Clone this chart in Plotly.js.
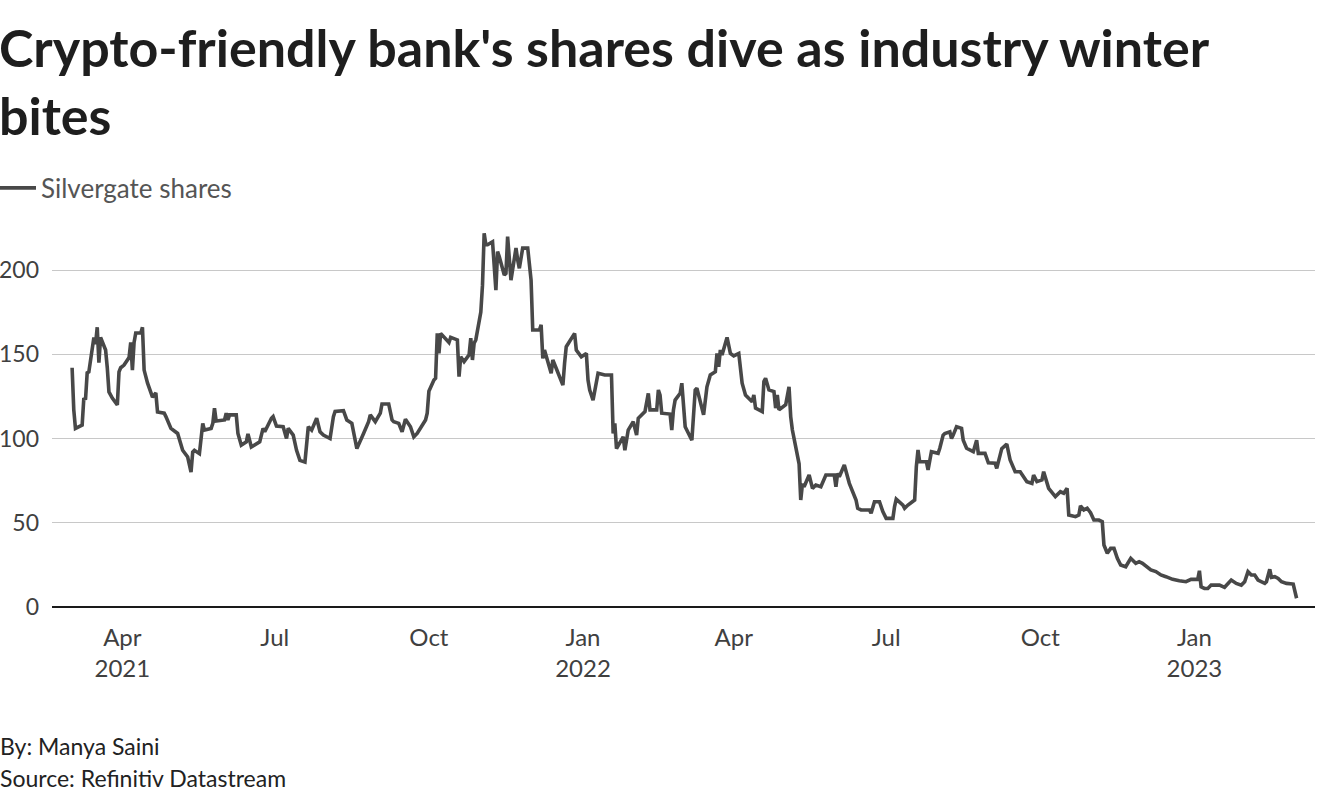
<!DOCTYPE html>
<html>
<head>
<meta charset="utf-8">
<script src="https://cdn.plot.ly/plotly-3.0.1.min.js"></script>
<style>
  html, body { margin: 0; padding: 0; background: #ffffff; }
  #chart { width: 1320px; height: 800px; }
</style>
</head>
<body>
<div id="chart"></div>
<script>
// Silvergate share price (USD)
const dates = [
  "2021-03-02","2021-03-03","2021-03-04","2021-03-08","2021-03-09","2021-03-10","2021-03-11","2021-03-12",
  "2021-03-15","2021-03-16","2021-03-17","2021-03-18","2021-03-19","2021-03-22","2021-03-23","2021-03-24",
  "2021-03-26","2021-03-29","2021-03-30","2021-03-31","2021-04-02","2021-04-05","2021-04-06","2021-04-07",
  "2021-04-08","2021-04-09","2021-04-12","2021-04-13","2021-04-14","2021-04-16","2021-04-19","2021-04-21",
  "2021-04-22","2021-04-26","2021-04-27","2021-04-30","2021-05-04","2021-05-05","2021-05-07","2021-05-10",
  "2021-05-12","2021-05-13","2021-05-14","2021-05-17","2021-05-19","2021-05-20","2021-05-24","2021-05-25",
  "2021-05-26","2021-05-27","2021-06-01","2021-06-02","2021-06-03","2021-06-04","2021-06-08","2021-06-09",
  "2021-06-11","2021-06-14","2021-06-15","2021-06-17","2021-06-21","2021-06-22","2021-06-24","2021-06-25",
  "2021-06-29","2021-06-30","2021-07-02","2021-07-06","2021-07-08","2021-07-09","2021-07-12","2021-07-14",
  "2021-07-16","2021-07-19","2021-07-21","2021-07-23","2021-07-26","2021-07-28","2021-07-30","2021-08-03",
  "2021-08-05","2021-08-06","2021-08-11","2021-08-13","2021-08-16","2021-08-18","2021-08-19","2021-08-23",
  "2021-08-26","2021-08-27","2021-08-30","2021-09-02","2021-09-03","2021-09-07","2021-09-09","2021-09-10",
  "2021-09-13","2021-09-15","2021-09-17","2021-09-20","2021-09-22","2021-09-24","2021-09-27","2021-09-29",
  "2021-09-30","2021-10-01","2021-10-04","2021-10-05","2021-10-06","2021-10-07","2021-10-08","2021-10-13",
  "2021-10-14","2021-10-18","2021-10-19","2021-10-20","2021-10-22","2021-10-25","2021-10-26","2021-10-27",
  "2021-10-28","2021-10-29","2021-11-01","2021-11-02","2021-11-03","2021-11-04","2021-11-05","2021-11-08",
  "2021-11-10","2021-11-11","2021-11-12","2021-11-15","2021-11-16","2021-11-17","2021-11-19","2021-11-22",
  "2021-11-23","2021-11-24","2021-11-26","2021-11-29","2021-12-01","2021-12-02","2021-12-06","2021-12-07",
  "2021-12-08","2021-12-09","2021-12-13","2021-12-14","2021-12-16","2021-12-20","2021-12-21","2021-12-22",
  "2021-12-27","2021-12-28","2021-12-31",
  "2022-01-03","2022-01-04","2022-01-05","2022-01-07","2022-01-10","2022-01-14","2022-01-18","2022-01-19",
  "2022-01-20","2022-01-21","2022-01-25","2022-01-26","2022-01-28","2022-01-31","2022-02-02","2022-02-03",
  "2022-02-07","2022-02-09","2022-02-10","2022-02-14","2022-02-15","2022-02-16","2022-02-17","2022-02-22",
  "2022-02-23","2022-02-24","2022-02-25","2022-02-28","2022-03-01","2022-03-03","2022-03-07","2022-03-09",
  "2022-03-10","2022-03-14","2022-03-16","2022-03-18","2022-03-21","2022-03-22","2022-03-23","2022-03-24",
  "2022-03-25","2022-03-28","2022-03-30","2022-04-01","2022-04-04","2022-04-06","2022-04-08","2022-04-12",
  "2022-04-13","2022-04-14","2022-04-18","2022-04-19","2022-04-20","2022-04-22","2022-04-25","2022-04-26",
  "2022-04-27","2022-04-28","2022-05-02","2022-05-04","2022-05-05","2022-05-06","2022-05-10","2022-05-11",
  "2022-05-12","2022-05-13","2022-05-16","2022-05-18","2022-05-20","2022-05-23","2022-05-26","2022-05-31",
  "2022-06-01","2022-06-02","2022-06-03","2022-06-06","2022-06-09","2022-06-13","2022-06-14","2022-06-16",
  "2022-06-21","2022-06-22","2022-06-24","2022-06-27","2022-06-29","2022-07-01","2022-07-05","2022-07-06",
  "2022-07-07","2022-07-11","2022-07-12","2022-07-14","2022-07-18","2022-07-19","2022-07-20","2022-07-21",
  "2022-07-25","2022-07-26","2022-07-28","2022-08-01","2022-08-02","2022-08-04","2022-08-05","2022-08-08",
  "2022-08-09","2022-08-10","2022-08-12","2022-08-15","2022-08-16","2022-08-18","2022-08-22","2022-08-24",
  "2022-08-25","2022-08-29","2022-08-31","2022-09-04","2022-09-05","2022-09-08","2022-09-11","2022-09-13",
  "2022-09-16","2022-09-19","2022-09-23","2022-09-26","2022-09-27","2022-09-29","2022-10-02","2022-10-03",
  "2022-10-06","2022-10-10","2022-10-13","2022-10-15","2022-10-17","2022-10-18","2022-10-22","2022-10-24",
  "2022-10-25","2022-10-27","2022-10-29","2022-10-31","2022-11-02","2022-11-05","2022-11-07","2022-11-08",
  "2022-11-10","2022-11-12","2022-11-14","2022-11-16","2022-11-18","2022-11-21","2022-11-24","2022-11-27",
  "2022-11-29","2022-12-01","2022-12-04","2022-12-06","2022-12-09","2022-12-12","2022-12-15","2022-12-19",
  "2022-12-23","2022-12-27","2022-12-30",
  "2023-01-03","2023-01-04","2023-01-05","2023-01-07","2023-01-09","2023-01-11","2023-01-16","2023-01-19",
  "2023-01-21","2023-01-23","2023-01-26","2023-01-29","2023-01-31","2023-02-02","2023-02-04","2023-02-06",
  "2023-02-08","2023-02-12","2023-02-13","2023-02-15","2023-02-16","2023-02-18","2023-02-20","2023-02-22",
  "2023-02-25","2023-03-01","2023-03-03"
];
const prices = [
  142,117,106,108,124,123,139,139.5,
  160,156,166,145,160,152.5,142,127.6,
  124,120,139.5,142,143.6,148,157,140.6,
  157,162.6,162.6,166,140.6,133,124.6,127,
  115.7,115,113,106,103,99,93,89,
  80,92,93,91,109,105,106,109,
  118,110.4,111,115,111,114,114,103,
  96,98,102.7,95,97,98,106,104,
  112,113,107.4,107,100,106,102,93,
  87,86,107,105,112,104,102,100,
  113,116,116.5,111,109,98,94,103,
  110,114,110,115,120.5,120.5,111,110,
  109,104,111.4,107,101,103,108,111,
  115,128,134.7,135.7,162.4,150.5,162.4,157,
  160,158.5,136.7,148.5,145.6,149.6,159.5,146.6,
  156.5,158.5,175,191,221.8,215,215,216.8,
  188,211,208,197,198,219.8,194,213,
  206,201,213,213,194,164.4,164.4,167.4,
  147.6,152.5,138.7,146.6,141.7,131.7,144.6,154.5,
  162.4,152.5,148.5,
  150.5,134.7,128.8,122.8,138.7,137.7,137.7,103,
  109,94,101,93,105,110,102,112,
  116,126.8,117,117,128.8,125.8,115,114.5,
  105,117,122.8,126.8,132.8,107,99,128.8,
  129.8,114,130.7,137.7,139.6,150.5,142.6,152.5,
  149.6,160,150.5,149,150.5,132.8,125.8,121.8,
  125.8,118,116,133.8,135.7,128.8,127.8,118,
  125.8,117,120,130.7,113,105,85,63.5,
  73,71.4,78.3,70.4,72.4,71.4,78.3,78.3,
  71.4,79.3,77.3,84.3,73.4,63.5,58.6,57.6,
  57.6,55.6,62.5,62.5,56.6,52.6,52.6,59.6,
  64,60.5,58.6,60.5,63.5,83.3,93.2,86.2,
  86.2,81.3,92.2,91.2,94.2,102,103,104,
  100,102,107,106,99,94.2,92.2,99,
  91.2,91.2,85.6,85.3,82.3,94,96.7,87.2,
  80.3,80.3,74.4,73.4,78.3,74.4,75.4,80.3,
  70.4,65.5,68.4,67.5,70.4,54.6,53.6,54.6,
  60,57.6,58.6,56,51.6,51.6,50.6,36.8,
  31.9,34.8,34.8,28.9,24.9,23.9,28.9,25.9,
  26.9,25.9,23.9,22,21,19,18,16.4,
  15.6,15,16.4,
  16.4,21.5,12,11,11,13,13,11.7,
  14,16,14,13,15,21,19,19,
  16,14,15,22.4,17.6,18,17,15,
  14,13.6,5.2
];

const seriesName = "Silvergate shares";
const titleText = "Crypto-friendly bank's shares dive as industry winter<br>bites";
const bylineText = "By: Manya Saini";
const sourceText = "Source: Refinitiv Datastream";
const tickDates = ["2021-04-01","2021-07-01","2021-10-01","2022-01-01","2022-04-01","2022-07-01","2022-10-01","2023-01-01"];
const tickLabels = ["Apr<br>2021","Jul","Oct","Jan<br>2022","Apr","Jul","Oct","Jan<br>2023"];
const yTicks = [0, 50, 100, 150, 200];

const FONT = "Lato, 'Noto Sans', sans-serif";

const trace = {
  type: "scatter",
  mode: "lines",
  x: dates,
  y: prices,
  name: seriesName,
  line: { color: "#484848", width: 3.6 },
  hoverinfo: "x+y"
};

const ML = 52, MR = 5, MT = 220, MB = 193;
const plotW = 1320 - ML - MR;
const plotH = 800 - MT - MB;
// absolute page pixel -> paper coordinate
const px2x = function (px) { return (px - ML) / plotW; };
const py2y = function (py) { return (800 - MB - py) / plotH; };

const layout = {
  width: 1320,
  height: 800,
  paper_bgcolor: "#ffffff",
  plot_bgcolor: "#ffffff",
  margin: { l: ML, r: MR, t: MT, b: MB, pad: 0, autoexpand: false },
  font: { family: FONT, color: "#404040" },
  showlegend: true,
  legend: {
    xref: "paper", x: px2x(-5), xanchor: "left",
    y: py2y(188), yanchor: "middle",
    itemwidth: 36,
    font: { family: FONT, size: 26, color: "#555555" },
    bgcolor: "rgba(0,0,0,0)", borderwidth: 0
  },
  xaxis: {
    type: "date",
    automargin: false,
    range: ["2021-02-18", "2023-03-14"],
    tickmode: "array",
    tickvals: tickDates,
    ticktext: tickLabels,
    showgrid: false,
    zeroline: false,
    showline: false,
    ticks: "",
    ticklabelstandoff: 14,
    tickfont: { family: FONT, size: 24, color: "#404040" }
  },
  yaxis: {
    automargin: false,
    range: [0, (607 - 220) / ((607 - 270) / 200)],
    tickmode: "array",
    tickvals: yTicks,
    showgrid: true,
    gridcolor: "#c8c8c8",
    gridwidth: 1,
    zeroline: true,
    zerolinecolor: "#1a1a1a",
    zerolinewidth: 2,
    showline: false,
    ticks: "",
    ticklabelstandoff: 12,
    tickfont: { family: FONT, size: 23, color: "#404040" }
  },
  annotations: [
    {
      xref: "paper", yref: "paper",
      x: px2x(-3), xanchor: "left",
      y: py2y(14), yanchor: "top",
      align: "left",
      text: titleText, showarrow: false,
      font: { family: FONT, size: 52, color: "#1e1e1e", weight: 700 }
    },
    {
      xref: "paper", yref: "paper",
      x: px2x(-2), xanchor: "left",
      y: py2y(746), yanchor: "middle",
      text: bylineText, showarrow: false,
      font: { family: FONT, size: 23, color: "#222222" }
    },
    {
      xref: "paper", yref: "paper",
      x: px2x(-2), xanchor: "left",
      y: py2y(778), yanchor: "middle",
      text: sourceText, showarrow: false,
      font: { family: FONT, size: 23, color: "#222222" }
    }
  ]
};

Plotly.newPlot("chart", [trace], layout, { displayModeBar: false, responsive: false });
</script>
</body>
</html>
